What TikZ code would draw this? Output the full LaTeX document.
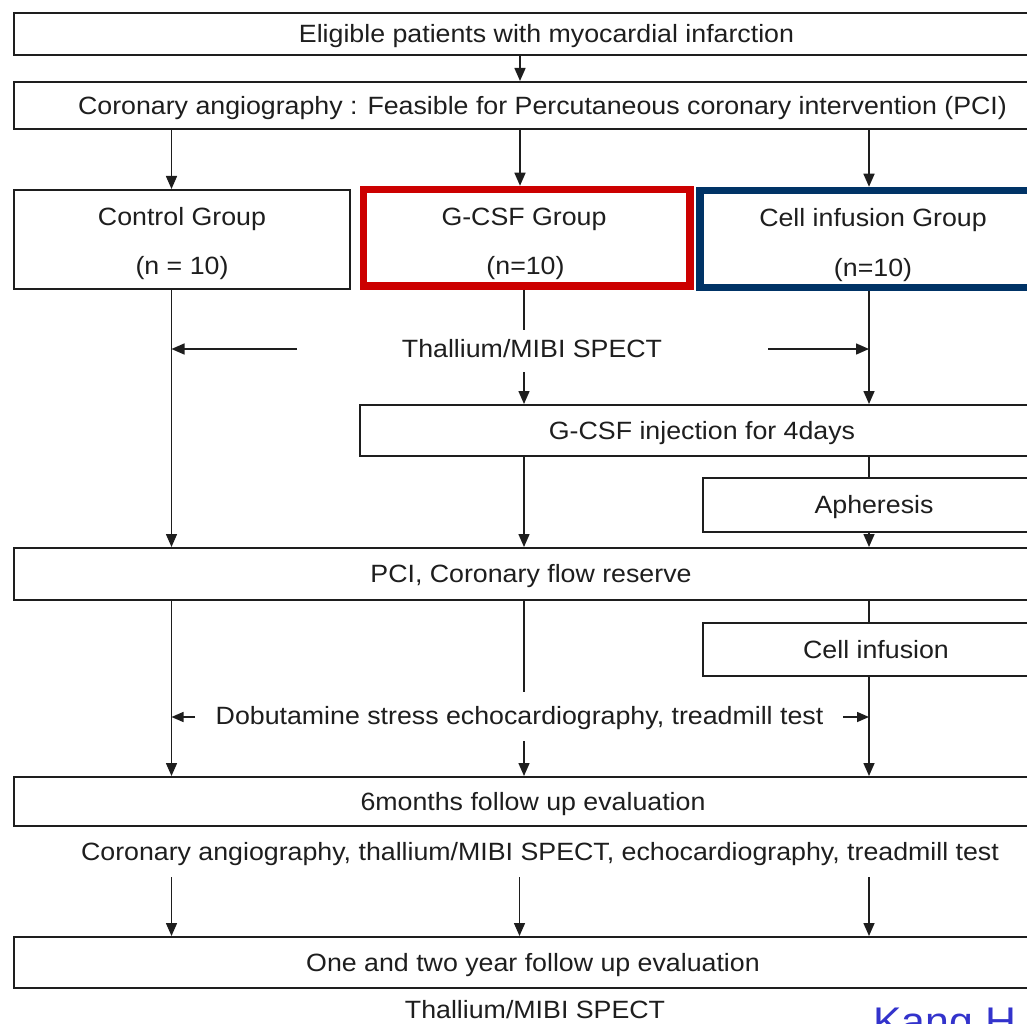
\documentclass[tikz,border=0pt]{standalone}
\usepackage{fontspec}
\setmainfont[FakeStretch=1.07]{Liberation Sans}
\usetikzlibrary{arrows.meta}
\definecolor{ink}{RGB}{30,30,30}
\definecolor{boxred}{RGB}{204,0,0}
\definecolor{boxblue}{RGB}{0,51,102}
\definecolor{refblue}{RGB}{51,51,204}
\begin{document}
\begin{tikzpicture}[x=1pt,y=-1pt,
  every node/.style={font=\fontsize{25}{30}\selectfont, text=ink},
  txt/.style={inner sep=0pt, text height=17.9pt, text depth=0pt},
  box/.style={draw=ink, line width=2pt, inner sep=0pt, text height=17.9pt, text depth=0pt},
  grp/.style={line width=7.5pt, inner sep=0pt},
  arr/.style={draw=ink, line width=1.5pt, -{Triangle[length=13pt,width=11pt]}},
  sarr/.style={draw=ink, line width=1.5pt, -{Triangle[length=12pt,width=10pt]}},
  ln/.style={draw=ink, line width=1.5pt}]
\useasboundingbox (0,0) rectangle (1027,1024);
\fill[white] (0,0) rectangle (1027,1024);
\clip (0,0) rectangle (1027,1024);

% columns
\coordinate (cA) at (171.5,0);
\coordinate (cB) at (524,0);
\coordinate (cC) at (869,0);
\coordinate (cT) at (520,0);

% boxes
\node[box, minimum width=1065pt, minimum height=42pt] (b1) at (546.5,34) {Eligible patients with myocardial infarction};
\node[box, minimum width=1057pt, minimum height=47pt] (b2) at (542.5,105.5) {Coronary angiography : Feasible for Percutaneous coronary intervention (PCI)};
\node[box, minimum width=336pt, minimum height=99pt] (ctrl) at (182,239.5) {};
\node[grp, draw=boxred, minimum width=326.5pt, minimum height=96.5pt] (red) at (526.75,237.75) {};
\node[grp, draw=boxblue, minimum width=346pt, minimum height=97pt] (blue) at (873,239) {};
\node[box, minimum width=684pt, minimum height=51pt] (inj) at (702,430.5) {G-CSF injection for 4days};
\node[box, minimum width=342pt, minimum height=54pt] (aph) at (874,505) {Apheresis};
\node[box, minimum width=1034pt, minimum height=52pt] (pci) at (531,574) {PCI, Coronary flow reserve};
\node[box, minimum width=346pt, minimum height=53pt] (cinf) at (876,649.5) {Cell infusion};
\node[box, minimum width=1038pt, minimum height=49pt] (m6) at (533,801.5) {6months follow up evaluation};
\node[box, minimum width=1038pt, minimum height=51pt] (y12) at (533,962.5) {One and two year follow up evaluation};

% group texts
\node[txt] (ctrlA) at (182,216.5) {Control Group};
\node[txt] (ctrlB) at (182,265.5) {(n = 10)};
\node[txt] (redA) at (524,216.5) {G-CSF Group};
\node[txt] (redB) at (525.5,266) {(n=10)};
\node[txt] (blueA) at (873,218) {Cell infusion Group};
\node[txt] (blueB) at (873,268) {(n=10)};

% free texts
\node[txt] (thal1) at (532,349) {Thallium/MIBI SPECT};
\node[txt] (dob) at (519.5,715.5) {Dobutamine stress echocardiography, treadmill test};
\node[txt] (cor2) at (540,852) {Coronary angiography, thallium/MIBI SPECT, echocardiography, treadmill test};
\node[txt] (thal2) at (535,1009.5) {Thallium/MIBI SPECT};
\node[anchor=base west, inner sep=0pt, text=refblue, font=\fontsize{40}{44}\selectfont] (kang) at (873,1035.5) {Kang H};

% connectors
\draw[arr] (b1.south -| cT) -- (b2.north -| cT);
\draw[arr] (b2.south -| cA) -- (ctrl.north -| cA);
\draw[arr] (b2.south -| cT) -- (red.north -| cT);
\draw[arr] (b2.south -| cC) -- (blue.north -| cC);

\draw[arr] (ctrl.south -| cA) -- (pci.north -| cA);
\coordinate (g1) at (524,330);
\coordinate (g2) at (524,372);
\draw[ln] (red.south -| cB) -- (g1);
\draw[arr] (g2) -- (inj.north -| cB);
\draw[arr] (blue.south -| cC) -- (inj.north -| cC);
\coordinate (tl) at (297,349);
\coordinate (tr) at (768,349);
\draw[arr] (tl) -- (tl -| cA);
\draw[arr] (tr) -- (tr -| cC);

\draw[arr] (inj.south -| cB) -- (pci.north -| cB);
\draw[ln] (inj.south -| cC) -- (aph.north -| cC);
\draw[arr] (aph.south -| cC) -- (pci.north -| cC);

\draw[arr] (pci.south -| cA) -- (m6.north -| cA);
\coordinate (h1) at (524,692);
\coordinate (h2) at (524,741);
\draw[ln] (pci.south -| cB) -- (h1);
\draw[arr] (h2) -- (m6.north -| cB);
\draw[ln] (pci.south -| cC) -- (cinf.north -| cC);
\draw[arr] (cinf.south -| cC) -- (m6.north -| cC);
\coordinate (dl) at (195,717);
\coordinate (dr) at (843,717);
\draw[sarr] (dl) -- (dl -| cA);
\draw[sarr] (dr) -- (dr -| cC);

\coordinate (k1) at (171.5,877);
\coordinate (k2) at (519.5,877);
\coordinate (k3) at (869,877);
\draw[arr] (k1) -- (y12.north -| k1);
\draw[arr] (k2) -- (y12.north -| k2);
\draw[arr] (k3) -- (y12.north -| k3);
\end{tikzpicture}
\end{document}
